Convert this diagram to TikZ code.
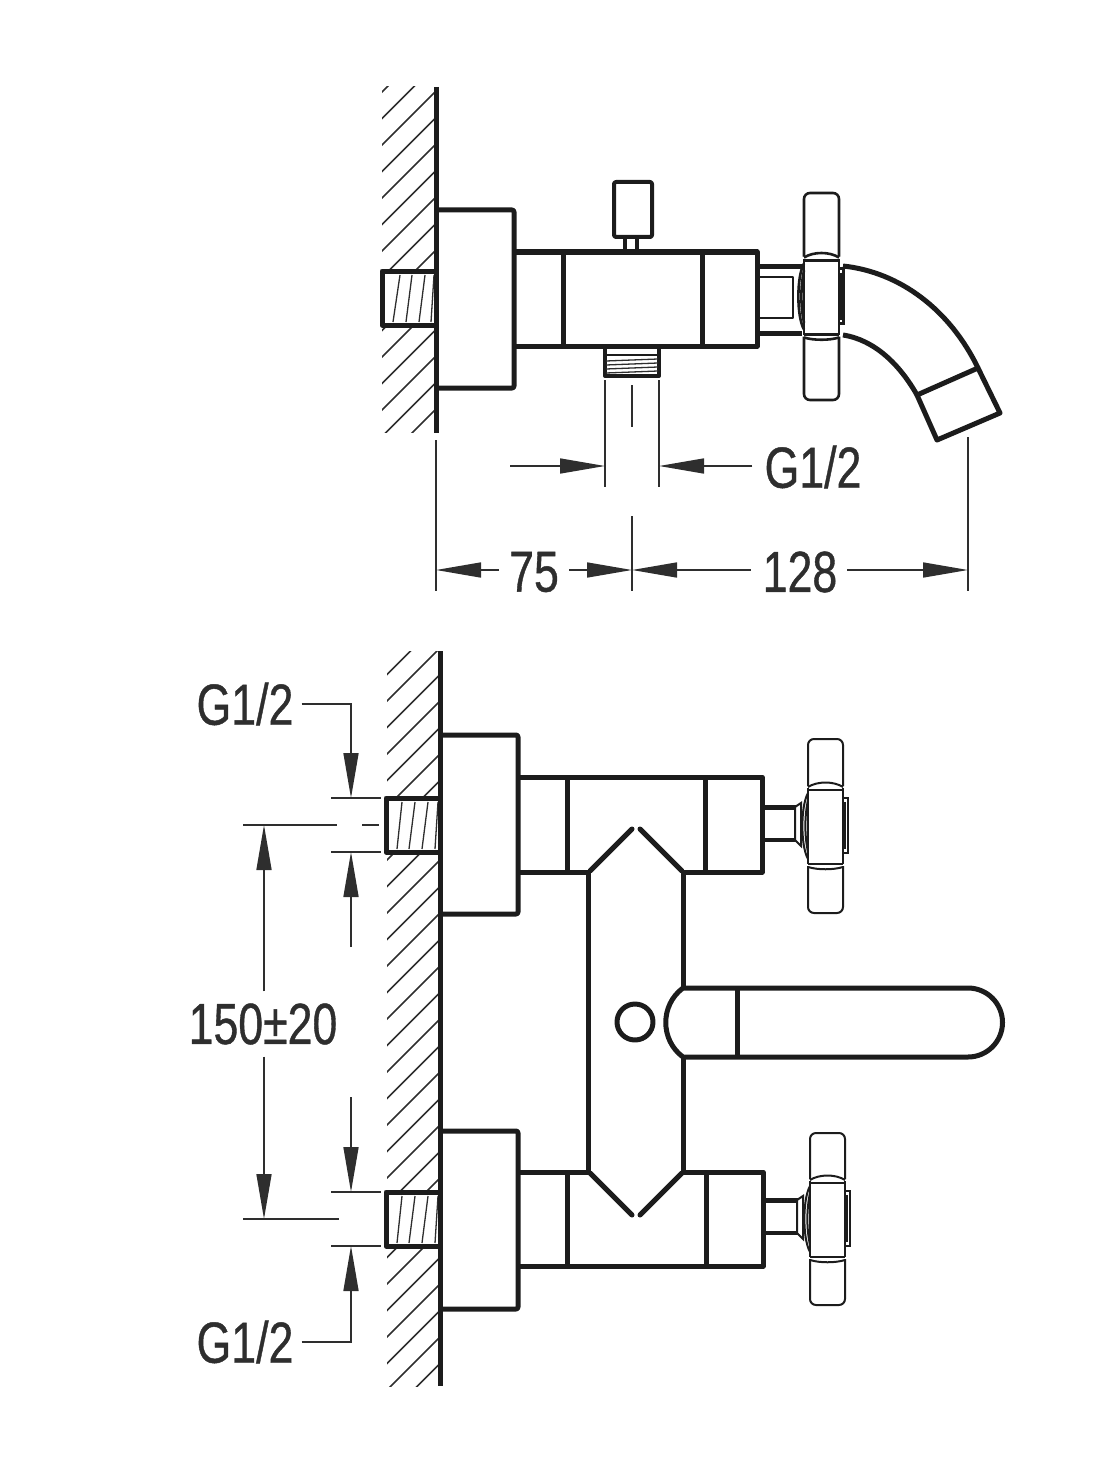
\documentclass[tikz,border=0pt]{standalone}
\usepackage{tikz}
\usepackage{fontspec}
\setmainfont{Liberation Sans}
\newfontfamily\dimfont[FakeBold=0.8]{Liberation Sans}
\usetikzlibrary{arrows.meta}
\definecolor{inkline}{HTML}{1C1C1C}
\definecolor{dimgrey}{HTML}{2E2E2E}
\tikzset{
    body/.style={draw=inkline, line width=5pt, line join=round},
    hatchline/.style={draw=dimgrey, line width=1.7pt},
    threadline/.style={draw=dimgrey, line width=1.3pt},
    dimline/.style={draw=dimgrey, line width=1.6pt},
    dimarrow/.style={dimline, -{Triangle[length=45pt,width=15pt]}},
    dimtext/.style={font=\dimfont\fontsize{58}{60}\selectfont, text=dimgrey, inner sep=0pt, xscale=.77, transform shape}
}
\newcommand{\crosshandle}[1]{
    \draw[rounded corners=6pt](-17.5,-40)--(-17.5,-#1)--(17.5,-#1)--(17.5,-40);
    \draw[rounded corners=6pt](-17.5,40)--(-17.5,#1)--(17.5,#1)--(17.5,40);
    \draw(-17.5,-38)--(-17.5,38);
    \draw(17.5,-38)--(17.5,38);
    \draw(-17.5,-39)..controls(-8,-45)and(8,-45)..(17.5,-39);
    \draw(-17.5,-36)--(17.5,-36);
    \draw(-17.5,38)--(17.5,38);
    \draw(-17.5,41)..controls(-8,44)and(8,44)..(17.5,41);
    \draw(-17.5,-33)..controls(-25,-20)and(-25,20)..(-17.5,33);
    \draw(-17.5,-26)..controls(-21,-10)and(-21,10)..(-17.5,26);
    \draw(17.5,-28)--(22,-28)--(22,27)--(17.5,27);
    \draw(19,-24)--(19,23);
}
\begin{document}
\begin{tikzpicture}[x=1pt, y=-1pt]
\useasboundingbox(0,0)rectangle(1103,1471);

\begin{scope}
    \clip(382,87)rectangle(436,432);
    \foreach \c in {0,1,...,14}
    {
        \draw[hatchline](380,474+26.5*\c-380)--(440,474+26.5*\c-440);
    }
\end{scope}
\draw[body, fill=white](436,271)--(382,271)--(382,325)--(436,325);
\foreach \a/\b in {400/393,412/406,425/419}
{
    \draw[threadline](\a,275)--(\b,322);
}
\draw[threadline](434,275)--(431,322);
\draw[body](436,87)--(436,433);
\draw[body, rounded corners=2pt](436,210)--(514,210)--(514,388)--(436,388);
\draw[body](514,252)--(757,252)--(757,346)--(514,346);
\draw[body](563,252)--(563,346);
\draw[body](702,252)--(702,346);
\draw[body, line width=4pt, rounded corners=2pt](614,182)rectangle(652,237);
\draw[body, line width=3.5pt](625,237)--(625,250);
\draw[body, line width=3.5pt](637,237)--(637,250);
\draw[body, line width=4pt](605,348)--(605,376)--(659,376)--(659,348);
\draw[threadline, draw=inkline](606,355)--(658,355);
\foreach \a/\b in {361/359,365/363,369/367,373/371}
{
    \draw[threadline](606,\a)--(658,\b);
}
\draw[body, line width=5pt](757,266)--(802,266);
\draw[body, line width=5pt](757,333)--(802,333);
\draw[body, line width=2.5pt](759,277)--(793,277)--(793,318)--(759,318);
\begin{scope}[shift={(821.5,296.5)}, draw=inkline, line width=2.6pt]
    \crosshandle{103.5}
\end{scope}
\draw[body](843,266)..controls(900,272)and(950,310)..(978,368);
\draw[body](843,335)..controls(875,340)and(900,365)..(917,395);
\draw[body](917,395)--(978,368)--(1000,413)--(937,440)--cycle;

\draw[dimline](605,380)--(605,487);
\draw[dimline](659,380)--(659,487);
\draw[dimline](632,385)--(632,427);
\draw[dimline](632,516)--(632,591);
\draw[dimline](436,440)--(436,591);
\draw[dimline](968,437)--(968,591);

\node[dimtext] (gTop) at (813,467) {G1/2};
\node[dimtext] (dimFront) at (534,572) {75};
\node[dimtext] (dimSpout) at (800,572) {128};
\coordinate (gTopLeft) at (605,466);
\coordinate (gTopRight) at (659,466);
\coordinate (wallFoot) at (436,570);
\coordinate (centreFoot) at (632,570);
\coordinate (spoutFoot) at (968,570);
\draw[dimarrow](510,466)--(gTopLeft);
\draw[dimarrow, shorten <=12pt](gTop.west |- gTopRight)--(gTopRight);
\draw[dimarrow, shorten <=10pt](dimFront.west |- wallFoot)--(wallFoot);
\draw[dimarrow, shorten <=10pt](dimFront.east |- wallFoot)--(centreFoot);
\draw[dimarrow, shorten <=12pt](dimSpout.west |- wallFoot)--(centreFoot);
\draw[dimarrow, shorten <=10pt](dimSpout.east |- wallFoot)--(spoutFoot);

\begin{scope}
    \clip(387,651)rectangle(438,1386);
    \foreach \c in {0,1,...,29}
    {
        \draw[hatchline](380,1035+26.5*\c-380)--(445,1035+26.5*\c-445);
    }
\end{scope}
\foreach \y in {798,1192}
{
    \draw[body, fill=white](440,\y)--(386,\y)--(386,\y+54)--(440,\y+54);
    \foreach \a/\b in {402/397,415/409,428/422}
    {
        \draw[threadline](\a,\y+4)--(\b,\y+51);
    }
    \draw[threadline](438,\y+4)--(435,\y+51);
}
\draw[body](440,651)--(440,1386);
\draw[body, rounded corners=2pt](440,735)--(518,735)--(518,914)--(440,914);
\draw[body, rounded corners=2pt](440,1131)--(518,1131)--(518,1309)--(440,1309);

\draw[body](518,777)--(762,777)--(762,872)--(683,872);
\draw[body](518,872)--(588,872);
\draw[body](567,777)--(567,872);
\draw[body](705,777)--(705,872);
\draw[body, line cap=round](590,871)--(632,829);
\draw[body, line cap=round](640,829)--(682,871);

\draw[body](518,1266)--(763,1266)--(763,1172)--(683,1172);
\draw[body](518,1172)--(588,1172);
\draw[body](567,1172)--(567,1266);
\draw[body](706,1172)--(706,1266);
\draw[body, line cap=round](590,1173)--(632,1215);
\draw[body, line cap=round](640,1215)--(682,1173);

\draw[body](588,872)--(588,1172);
\draw[body](683,872)--(683,988);
\draw[body](683,1057)--(683,1172);
\draw[body](737,988)--(737,1057);
\draw[body](683,988)--(968,988)arc(-90:90:34.5)--(683,1057)..controls(660,1040)and(660,1005)..(683,988);
\draw[body](635,1022)circle(18);

\foreach \dx/\dy/\h in {0/0/87,2/393/86}
{
    \begin{scope}[shift={(\dx,\dy)}]
        \draw[body](762,807)--(796,807);
        \draw[body, line width=4pt](762,840)--(796,840);
        \draw[draw=inkline, line width=2pt](795,807)--(801,803)--(801,846)--(795,840)--cycle;
        \begin{scope}[shift={(825.5,826)}, draw=inkline, line width=2pt]
            \crosshandle{\h}
        \end{scope}
    \end{scope}
}

\node[dimtext] (gUpper) at (245,704) {G1/2};
\node[dimtext] (gLower) at (245,1342) {G1/2};
\node[dimtext] (dimSpacing) at (263,1024) {150±20};
\coordinate (upperTop) at (351,798);
\coordinate (upperBottom) at (351,852);
\coordinate (lowerTop) at (351,1192);
\coordinate (lowerBottom) at (351,1246);
\coordinate (spacingTop) at (264,825);
\coordinate (spacingBottom) at (264,1219);
\foreach \y in {798,852,1192,1246}
{
    \draw[dimline](331,\y)--(381,\y);
}
\draw[dimline](243,825)--(337,825);
\draw[dimline](362,825)--(379,825);
\draw[dimline](243,1219)--(339,1219);
\draw[dimarrow, shorten <=8pt](gUpper.east)-|(upperTop);
\draw[dimarrow](351,947)--(upperBottom);
\draw[dimarrow](351,1097)--(lowerTop);
\draw[dimarrow, shorten <=8pt](gLower.east)-|(lowerBottom);
\draw[dimarrow, shorten <=12pt](dimSpacing.north -| spacingTop)--(spacingTop);
\draw[dimarrow, shorten <=12pt](dimSpacing.south -| spacingTop)--(spacingBottom);
\end{tikzpicture}
\end{document}
